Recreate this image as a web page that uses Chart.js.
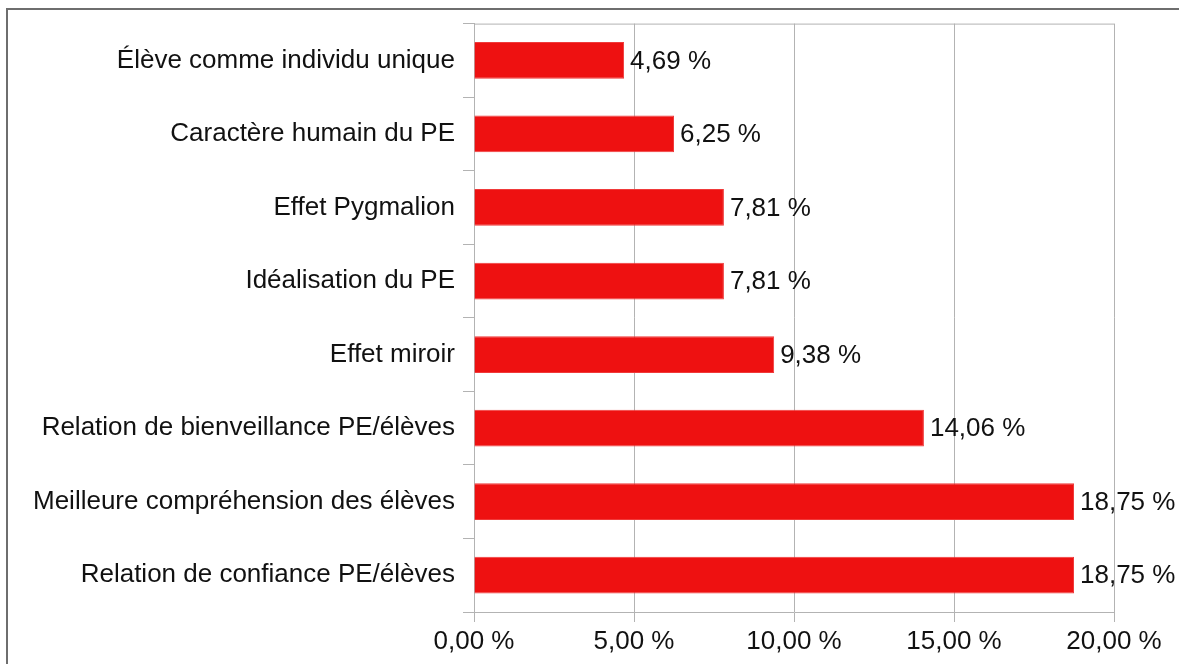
<!DOCTYPE html>
<html>
<head>
<meta charset="utf-8">
<script src="https://cdn.jsdelivr.net/npm/chart.js@4"></script>
<style>
  html, body { margin: 0; padding: 0; background: #fff; overflow: hidden; }
  #wrap { position: relative; width: 1179px; height: 664px; }
  #frame { position: absolute; left: 6px; top: 8px; width: 1300px; height: 800px;
           border-left: 2px solid #6e6e6e; border-top: 2px solid #6e6e6e; }
  canvas { position: absolute; left: 0; top: 0; }
</style>
</head>
<body>
<div id="wrap">
  <div id="frame"></div>
  <canvas id="c" width="1179" height="664"></canvas>
</div>
<script>
'use strict';

var categories = [
  'Élève comme individu unique',
  'Caractère humain du PE',
  'Effet Pygmalion',
  'Idéalisation du PE',
  'Effet miroir',
  'Relation de bienveillance PE/élèves',
  'Meilleure compréhension des élèves',
  'Relation de confiance PE/élèves'
];
var values = [4.69, 6.25, 7.81, 7.81, 9.38, 14.06, 18.75, 18.75];
var xTicks = [0, 5, 10, 15, 20];

var FONT = { family: '"Liberation Sans", Arial, sans-serif', size: 26 };
var GRID = '#b3b3b3';
var TEXT = '#111111';

function pct(v) {
  return v.toFixed(2).replace('.', ',') + ' %';
}

/* value labels at the end of each bar */
var barLabels = {
  id: 'barLabels',
  afterDatasetsDraw: function (chart) {
    var ctx = chart.ctx;
    var meta = chart.getDatasetMeta(0);
    ctx.save();
    ctx.font = FONT.size + 'px ' + FONT.family;
    ctx.fillStyle = TEXT;
    ctx.textBaseline = 'middle';
    ctx.textAlign = 'left';
    meta.data.forEach(function (bar, i) {
      ctx.fillText(pct(values[i]), bar.x + 6, bar.y + 1);
    });
    ctx.restore();
  }
};

/* top border of the plot area */
var plotTop = {
  id: 'plotTop',
  beforeDatasetsDraw: function (chart) {
    var a = chart.chartArea;
    var ctx = chart.ctx;
    ctx.save();
    ctx.strokeStyle = GRID;
    ctx.lineWidth = 1;
    ctx.beginPath();
    ctx.moveTo(a.left, a.top + 0.5);
    ctx.lineTo(a.right, a.top + 0.5);
    ctx.stroke();
    ctx.restore();
  }
};

new Chart(document.getElementById('c'), {
  type: 'bar',
  data: {
    labels: categories,
    datasets: [{
      data: values,
      backgroundColor: '#ee1111',
      borderColor: '#f03a3a',
      borderWidth: 1,
      barPercentage: 0.5,
      categoryPercentage: 1
    }]
  },
  options: {
    indexAxis: 'y',
    responsive: false,
    animation: false,
    layout: { padding: { top: 22, right: 65, left: 0, bottom: 0 } },
    plugins: {
      legend: { display: false },
      tooltip: { enabled: false }
    },
    scales: {
      x: {
        min: 0,
        max: 20,
        afterFit: function (s) { s.height = 52; },
        afterBuildTicks: function (s) {
          s.ticks = xTicks.map(function (v) { return { value: v }; });
        },
        grid: { color: GRID, tickLength: 10, lineWidth: 1 },
        border: { color: GRID },
        ticks: {
          color: TEXT,
          font: FONT,
          padding: 4,
          maxRotation: 0,
          callback: function (v) { return pct(v); }
        }
      },
      y: {
        afterFit: function (s) { s.width = 474; },
        grid: { color: GRID, drawOnChartArea: false, tickLength: 11, offset: true },
        border: { color: GRID },
        ticks: {
          color: TEXT,
          font: FONT,
          padding: 8
        }
      }
    }
  },
  plugins: [barLabels, plotTop]
});
</script>
</body>
</html>
